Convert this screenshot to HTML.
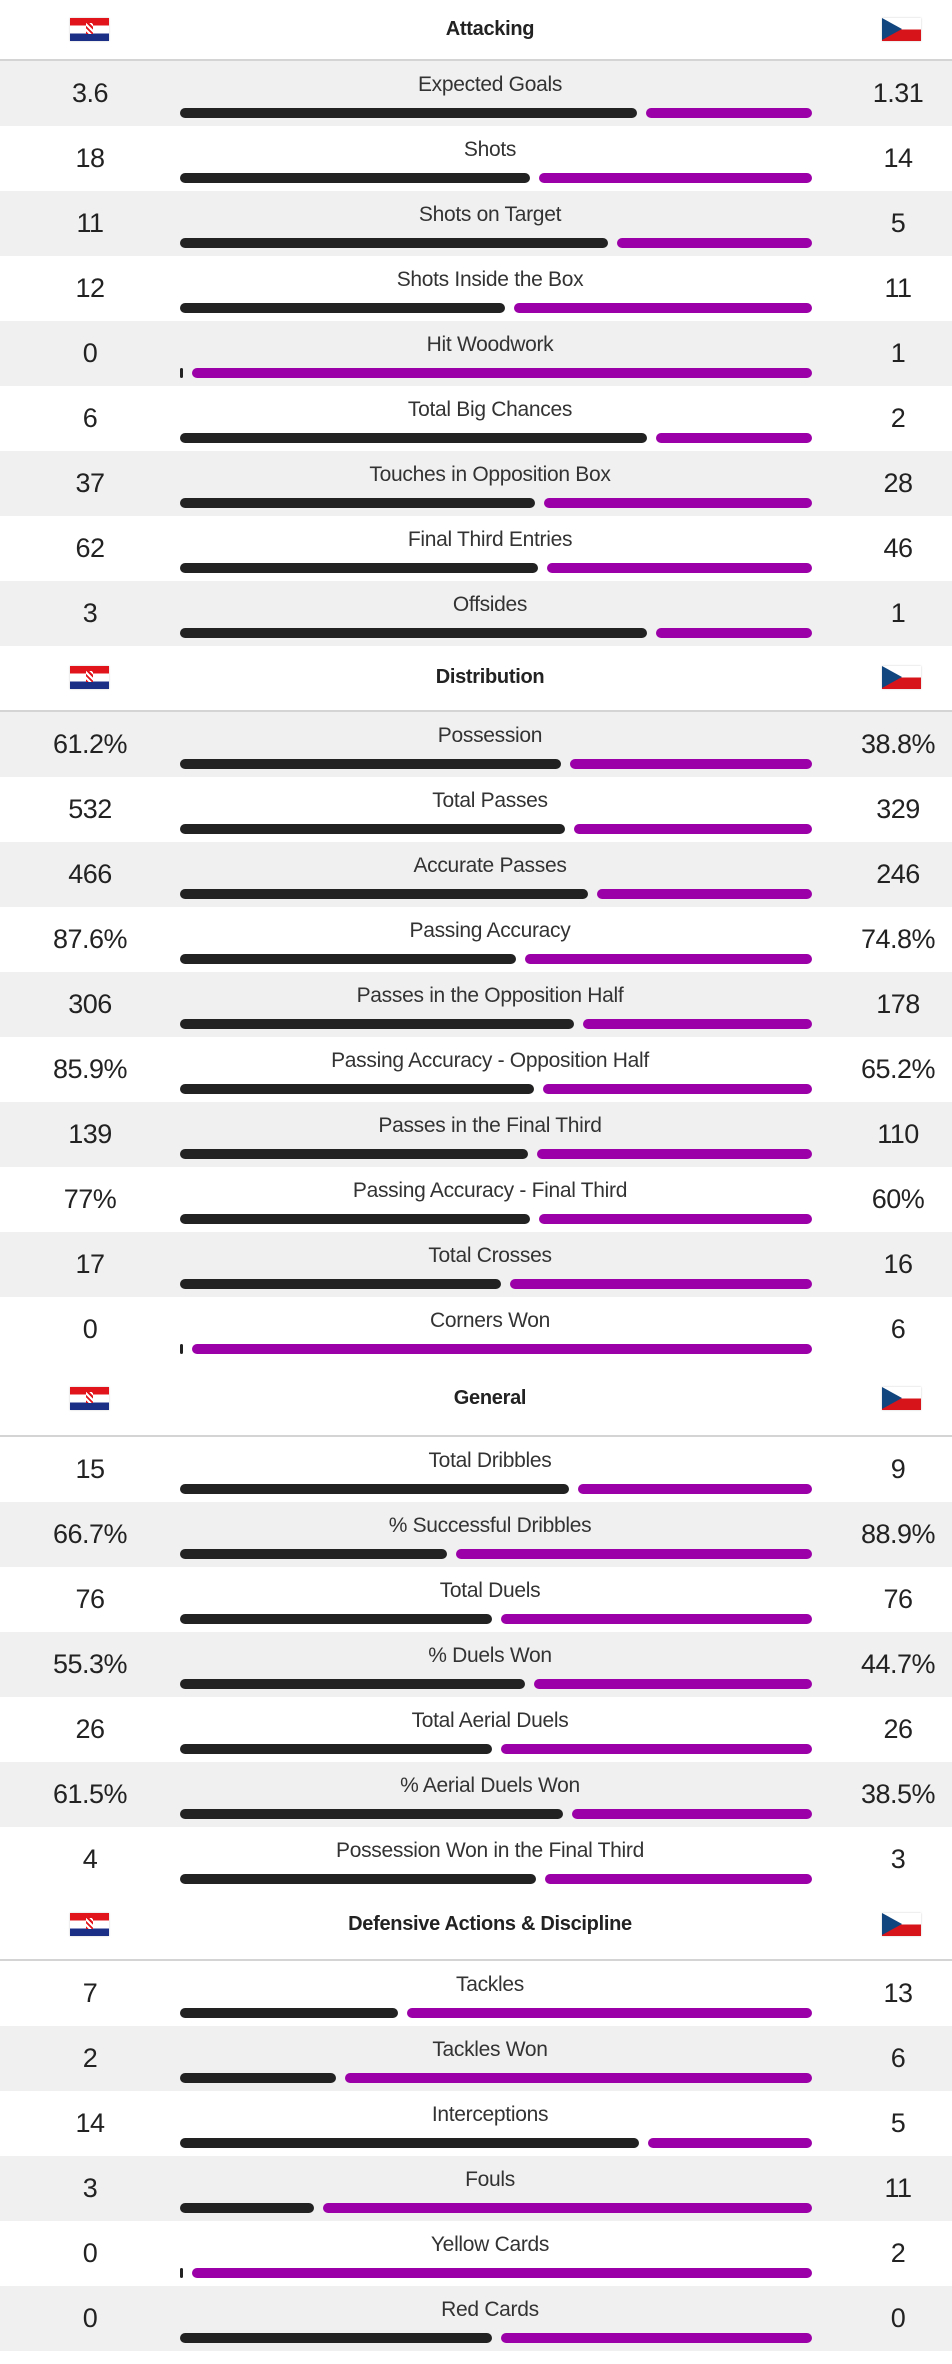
<!DOCTYPE html>
<html><head><meta charset="utf-8">
<style>
html,body{margin:0;padding:0;background:#fff;}
body{width:952px;height:2364px;position:relative;overflow:hidden;font-family:"Liberation Sans",sans-serif;color:#222;}
.sec-h{position:absolute;left:0;width:952px;background:#fff;border-bottom:2px solid #d4d4d4;}
.sec-h .t{position:absolute;left:0;width:980px;text-align:center;font-weight:bold;font-size:20px;letter-spacing:-0.3px;}
.flag{position:absolute;width:39px;height:23px;box-shadow:0 0 2px rgba(0,0,0,.2);}
.hr{background:linear-gradient(#e1141b 0 33.3%,#fff 33.3% 66.6%,#1c2f87 66.6%);}
.hr::after{content:"";position:absolute;left:16px;top:5px;width:7px;height:11px;background:repeating-linear-gradient(45deg,#e1141b 0 2px,#fff 2px 4px);}
.cz{background:linear-gradient(#fff 0 50%,#d7141a 50%);overflow:hidden;}
.cz::before{content:"";position:absolute;left:0;top:0;border-top:11.5px solid transparent;border-bottom:11.5px solid transparent;border-left:20px solid #11457e;}
.row{position:absolute;left:0;width:952px;height:65px;}
.g{background:#f0f0f0;}
.w{background:#fff;}
.val{position:absolute;top:17px;width:120px;text-align:center;font-size:27px;letter-spacing:-0.5px;}
.lbl{position:absolute;left:190px;width:600px;top:12px;text-align:center;font-size:21px;letter-spacing:-0.3px;color:#333;}
.bar{position:absolute;top:47px;height:10px;border-radius:5px;}
.bl{background:#222;}
.bp{background:#9b00a8;}
</style></head>
<body>
<div id="root"></div>
<script>
var sectionTitles=["Attacking","Distribution","General","Defensive Actions & Discipline"];
var categories=[
["Expected Goals","Shots","Shots on Target","Shots Inside the Box","Hit Woodwork","Total Big Chances","Touches in Opposition Box","Final Third Entries","Offsides"],
["Possession","Total Passes","Accurate Passes","Passing Accuracy","Passes in the Opposition Half","Passing Accuracy - Opposition Half","Passes in the Final Third","Passing Accuracy - Final Third","Total Crosses","Corners Won"],
["Total Dribbles","% Successful Dribbles","Total Duels","% Duels Won","Total Aerial Duels","% Aerial Duels Won","Possession Won in the Final Third"],
["Tackles","Tackles Won","Interceptions","Fouls","Yellow Cards","Red Cards"]];
var homeValues=[
[3.6,18,11,12,0,6,37,62,3],
[61.2,532,466,87.6,306,85.9,139,77,17,0],
[15,66.7,76,55.3,26,61.5,4],
[7,2,14,3,0,0]];
var awayValues=[
[1.31,14,5,11,1,2,28,46,1],
[38.8,329,246,74.8,178,65.2,110,60,16,6],
[9,88.9,76,44.7,26,38.5,3],
[13,6,5,11,2,0]];
var units=[
["","","","","","","","",""],
["%","","","%","","%","","%","",""],
["","%","","%","","%",""],
["","","","","",""]];

var sectionTop=[0,646,1362,1891];
var headerH=[61,66,75,70];
var firstGray=[true,true,false,false];
var ROWH=65, X0=180, SPAN=632, GAP=9;
var root=document.getElementById('root');

function fmt(v,u){return String(v)+u;}

for(var s=0;s<sectionTitles.length;s++){
  var h=document.createElement('div');
  h.className='sec-h';
  
  
  h.style.top=sectionTop[s]+'px';
  h.style.height=(headerH[s]-2)+'px';
  var t=document.createElement('div');
  t.className='t';
  
  
  t.textContent=sectionTitles[s];
  t.style.top=(headerH[s]-2)/2-12+'px';
  h.appendChild(t);
  var f1=document.createElement('div');
  f1.className='flag hr';
  
  
  f1.style.left='70px';f1.style.top=((headerH[s]-2)/2-12)+'px';
  h.appendChild(f1);
  var f2=document.createElement('div');
  f2.className='flag cz';
  
  
  f2.style.left='882px';f2.style.top=((headerH[s]-2)/2-12)+'px';
  h.appendChild(f2);
  root.appendChild(h);

  var y0=sectionTop[s]+headerH[s];
  for(var i=0;i<categories[s].length;i++){
    var a=homeValues[s][i], b=awayValues[s][i];
    var r=document.createElement('div');
    var gray=(i%2===0)===firstGray[s];
    r.className='row '+(gray?'g':'w');
    
    
    r.style.top=(y0+i*ROWH)+'px';
    var lv=document.createElement('div');
    lv.className='val';lv.style.left='30px';
    
    
    lv.textContent=fmt(a,units[s][i]);
    r.appendChild(lv);
    var rv=document.createElement('div');
    rv.className='val';rv.style.left='838px';
    
    
    rv.textContent=fmt(b,units[s][i]);
    r.appendChild(rv);
    var lb=document.createElement('div');
    lb.className='lbl';
    
    
    lb.textContent=categories[s][i];
    r.appendChild(lb);
    var frac=(a+b)>0?a/(a+b):0.5;
    var avail=SPAN-GAP;
    var lw=Math.max(3,avail*frac), rw=Math.max(3,avail-lw);
    var b1=document.createElement('div');
    b1.className='bar bl';
    
    
    b1.style.left=X0+'px';b1.style.width=lw+'px';
    r.appendChild(b1);
    var b2=document.createElement('div');
    b2.className='bar bp';
    
    
    b2.style.left=(X0+lw+GAP)+'px';b2.style.width=rw+'px';
    r.appendChild(b2);
    root.appendChild(r);
  }
}
</script>
</body></html>
